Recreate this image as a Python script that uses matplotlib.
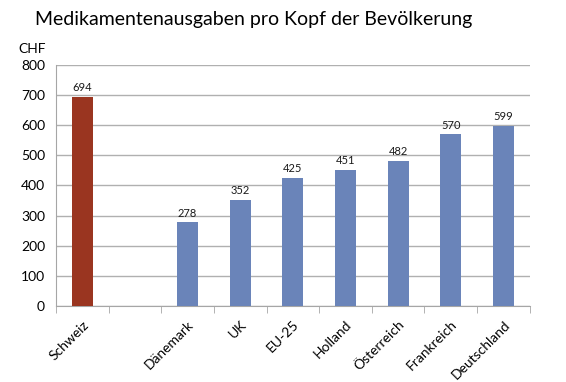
import matplotlib
matplotlib.use("Agg")
import matplotlib.pyplot as plt

categories = ["Schweiz", "", "Dänemark", "UK", "EU-25", "Holland", "Österreich", "Frankreich", "Deutschland"]
values = [694, None, 278, 352, 425, 451, 482, 570, 599]
colors = ["#9a3520", "#6a84b9", "#6a84b9", "#6a84b9", "#6a84b9", "#6a84b9", "#6a84b9", "#6a84b9", "#6a84b9"]
yticks = [0, 100, 200, 300, 400, 500, 600, 700, 800]

plt.rcParams['font.family'] = ['Lato', 'DejaVu Sans']

fig = plt.figure(figsize=(5.66, 3.82), dpi=100)
ax = fig.add_axes([0.099, 0.199, 0.837, 0.631])

xs = list(range(len(categories)))
for x, v, c in zip(xs, values, colors):
    if v is None:
        continue
    ax.bar(x, v, width=0.4, color=c, zorder=3)
    ax.text(x, v + 12, str(v), ha="center", va="bottom", fontsize=8, color="#1a1a1a", zorder=4)

ax.set_xlim(-0.5, len(categories) - 0.5)
ax.set_ylim(0, 800)
ax.set_yticks(yticks)
ax.set_yticklabels([str(t) for t in yticks], fontsize=10)
ax.yaxis.grid(True, color="#b0b0b0", linewidth=1, zorder=0)
ax.tick_params(axis="y", length=0, pad=8)

ax.set_xticks(xs)
labels = ax.set_xticklabels([c for c in categories], rotation=45, ha="right",
                            rotation_mode="anchor", fontsize=10)
ax.set_xticks([i - 0.5 for i in range(len(categories) + 1)], minor=True)
ax.tick_params(axis="x", which="major", length=0, pad=9)
ax.tick_params(axis="x", which="minor", length=5, color="#a6a6a6")

for s in ["top", "right"]:
    ax.spines[s].set_visible(False)
ax.spines["left"].set_color("#a6a6a6")
ax.spines["bottom"].set_color("#a6a6a6")

fig.text(0.062, 0.95, "Medikamentenausgaben pro Kopf der Bevölkerung", fontsize=14, ha="left", va="center")
fig.text(0.032, 0.872, "CHF", fontsize=10, ha="left", va="center")

fig.savefig("out.png", dpi=100)
